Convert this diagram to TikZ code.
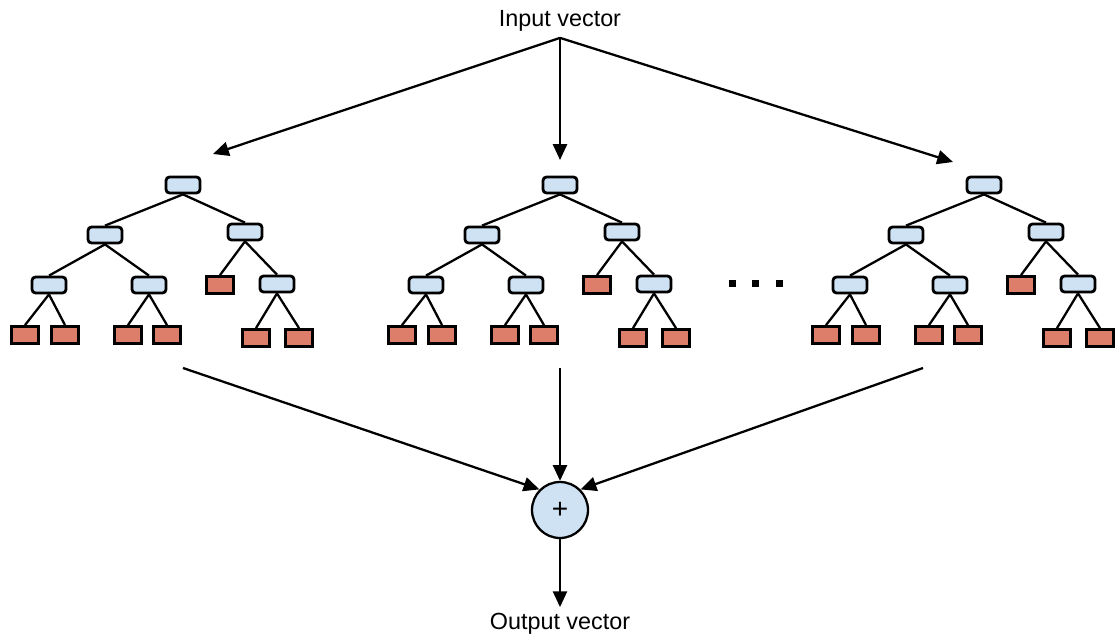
\documentclass[tikz,border=0pt]{standalone}
\usepackage{fontspec}
\setmainfont{Liberation Sans}
\usepackage{tikz}
\usetikzlibrary{positioning}
\usetikzlibrary{arrows.meta}
\definecolor{splitblue}{HTML}{CFE2F3}
\definecolor{leafred}{HTML}{DD7E6B}

\begin{document}
\begin{tikzpicture}[x=0.02cm,y=-0.02cm,line width=1.3pt,>={Triangle[length=9pt,width=8pt]},
  font=\fontsize{13.3}{15}\selectfont,
  split/.style={draw,line width=1.6pt,fill=splitblue,rounded corners=2pt,minimum width=0.68cm,minimum height=0.32cm,inner sep=0pt},
  leaf/.style={draw,line width=1.6pt,fill=leafred,minimum width=0.54cm,minimum height=0.34cm,inner sep=0pt},
  sum/.style={circle,draw,fill=splitblue,minimum size=1.12cm,inner sep=0pt,font=\fontsize{16}{16}\selectfont}]
\useasboundingbox (0,0) rectangle (1117,639);

\node[inner sep=3pt]  (in)  at (560,21) {Input vector};
\node[sum]            (sum) at (560,510) {+};
\node[inner sep=3pt]  (out) [below=1.36cm of sum] {Output vector};

\foreach \t/\x in {1/183,2/560,3/984}{
\begin{scope}[shift={(\x,185)}]
\node[split] (r\t) at (0,0) {};
\node[split] (a\t) at (-78,50) {};
\node[split] (b\t) at (62,47) {};
\node[split] (c\t) at (-134,100) {};
\node[split] (d\t) at (-34,100) {};
\node[leaf]  (e\t) at (37,100) {};
\node[split] (f\t) at (94,99) {};
\node[leaf]  (g\t) at (-158,150) {};
\node[leaf]  (h\t) at (-118,150) {};
\node[leaf]  (i\t) at (-55,150) {};
\node[leaf]  (j\t) at (-16,150) {};
\node[leaf]  (k\t) at (73,153) {};
\node[leaf]  (l\t) at (116,153) {};
\end{scope}
\draw (r\t.south) -- (a\t.north);
\draw (r\t.south) -- (b\t.north);
\draw (a\t.south) -- (c\t.north);
\draw (a\t.south) -- (d\t.north);
\draw (b\t.south) -- (e\t.north);
\draw (b\t.south) -- (f\t.north);
\draw (c\t.south) -- (g\t.north);
\draw (c\t.south) -- (h\t.north);
\draw (d\t.south) -- (i\t.north);
\draw (d\t.south) -- (j\t.north);
\draw (f\t.south) -- (k\t.north);
\draw (f\t.south) -- (l\t.north);
}

\foreach \d in {732,755,779}
  \fill (\d-3.5,279.5) rectangle ++(7,7);

\coordinate (top1) at (213,154);
\coordinate (top2) at (560,160);
\coordinate (top3) at (953,162);
\coordinate (bot1) at (183,368);
\coordinate (bot2) at (560,368);
\coordinate (bot3) at (923,368);

\draw[->] (in.south) -- (top1);
\draw[->] (in.south) -- (top2);
\draw[->] (in.south) -- (top3);
\draw[->] (bot1) -- (sum.135);
\draw[->] (bot2) -- (sum.north);
\draw[->] (bot3) -- (sum.45);
\draw[->] (sum) -- (out);
\end{tikzpicture}
\end{document}
